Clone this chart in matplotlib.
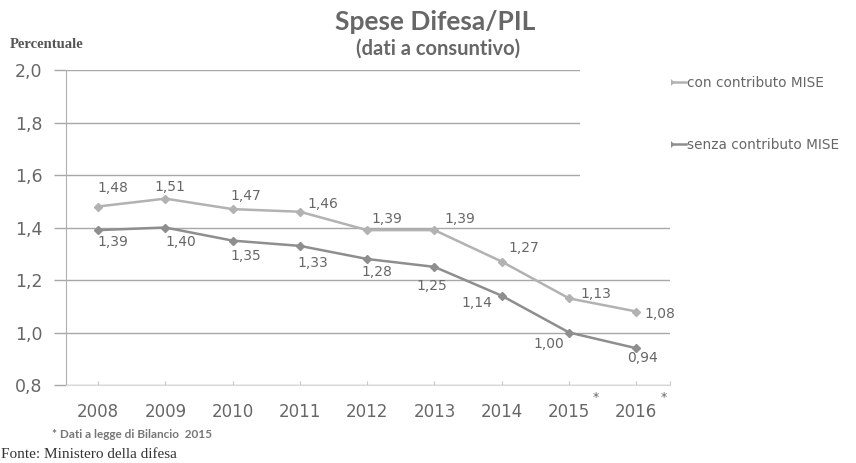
import matplotlib
matplotlib.use("Agg")
import matplotlib.pyplot as plt
from matplotlib.patches import Rectangle

plt.rcParams['font.family'] = ['DejaVu Sans']

# dati
anni = ['2008', '2009', '2010', '2011', '2012', '2013', '2014', '2015', '2016']
con_mise = [1.48, 1.51, 1.47, 1.46, 1.39, 1.39, 1.27, 1.13, 1.08]
senza_mise = [1.39, 1.40, 1.35, 1.33, 1.28, 1.25, 1.14, 1.00, 0.94]
etichette_y = ['0,8', '1,0', '1,2', '1,4', '1,6', '1,8', '2,0']
valori_y = [0.8, 1.0, 1.2, 1.4, 1.6, 1.8, 2.0]
anni_stimati = [7, 8]  # 2015 e 2016 con asterisco

# spostamenti delle etichette (pixel)
off_con = [(15, 19), (5, 12), (13, 13), (23, 8), (20, 11), (25, 11), (22, 14), (27, 4), (24, -3)]
off_senza = [(15, -12), (15, -14), (13, -15), (13, -17), (10, -13), (-3, -19), (-25, -7), (-20, -11), (6, -10)]

col_con = '#b2b2b2'
col_senza = '#8e8e8e'
col_testo = '#676767'

W, H = 856, 463
fig = plt.figure(figsize=(W / 100, H / 100), dpi=100)
ax = fig.add_axes([66 / W, 1 - 385 / H, (670 - 66) / W, (385 - 70) / H])

x = list(range(len(anni)))
ax.plot(x, con_mise, color=col_con, lw=1.8, marker='D', ms=4, label='con contributo MISE', zorder=3)
ax.plot(x, senza_mise, color=col_senza, lw=1.8, marker='D', ms=4, label='senza contributo MISE', zorder=3)

for i in range(len(x)):
  ax.annotate(('%.2f' % con_mise[i]).replace('.', ','), (x[i], con_mise[i]),
              xytext=off_con[i], textcoords='offset pixels', ha='center', va='center',
              fontsize=10, color=col_testo, zorder=4)
  ax.annotate(('%.2f' % senza_mise[i]).replace('.', ','), (x[i], senza_mise[i]),
              xytext=off_senza[i], textcoords='offset pixels', ha='center', va='center',
              fontsize=10, color=col_testo, zorder=4)

ax.set_xlim(-0.476, 8.5)
ax.set_ylim(0.8, 2.0)
ax.set_yticks(valori_y)
ax.set_yticklabels(etichette_y, fontsize=12.5, color=col_testo)
ax.set_xticks(x + [8.5])
ax.set_xticklabels(anni + [''], fontsize=12, color=col_testo)
ax.tick_params(axis='y', length=9, color='#a8a8a8', width=1, pad=8)
ax.tick_params(axis='x', length=3, color='#c8c8c8', direction='in', pad=13)
ax.grid(axis='y', color='#a8a8a8', lw=1)
ax.set_axisbelow(True)
for s in ['top', 'right']:
  ax.spines[s].set_visible(False)
ax.spines['left'].set_color('#b0b0b0')
ax.spines['bottom'].set_color('#dadada')

# asterischi sugli anni stimati
for i in anni_stimati:
  ax.annotate('*', (x[i], 0), xycoords=('data', 'axes fraction'), xytext=(27, -13),
              textcoords='offset pixels', fontsize=9, color=col_testo, ha='center', va='center',
              annotation_clip=False)

# riquadro bianco della legenda (copre la griglia)
fig.add_artist(Rectangle((580 / W, 1 - 200 / H), 91 / W, 140 / H, transform=fig.transFigure,
                         facecolor='white', edgecolor='none', zorder=1))
leg = ax.legend(loc='upper left', bbox_to_anchor=(652 / W, 1 - 76 / H),
                bbox_transform=fig.transFigure, fontsize=9.8, frameon=False,
                handlelength=2.5, handletextpad=0.1, labelspacing=3.5, borderpad=0,
                borderaxespad=0, labelcolor=col_testo)

fig.text(435 / W, 1 - 22 / H, 'Spese Difesa/PIL', ha='center', va='center',
         fontsize=19, fontweight='bold', color=col_testo, family='Lato')
fig.text(438 / W, 1 - 49 / H, '(dati a consuntivo)', ha='center', va='center',
         fontsize=14.5, fontweight='bold', color=col_testo, family='Lato')
fig.text(10 / W, 1 - 45 / H, 'Percentuale', ha='left', va='center',
         fontsize=10.5, fontweight='bold', color='#555555', family='Liberation Serif')
fig.text(52 / W, 1 - 435 / H, '* Dati a legge di Bilancio  2015', ha='left', va='center',
         fontsize=8.5, fontweight='bold', color='#777777', family='Lato')
fig.text(1 / W, 1 - 455 / H, 'Fonte: Ministero della difesa', ha='left', va='center',
         fontsize=11, color='#333333', family='Liberation Serif')

fig.savefig('out.png', dpi=100, facecolor='white')
